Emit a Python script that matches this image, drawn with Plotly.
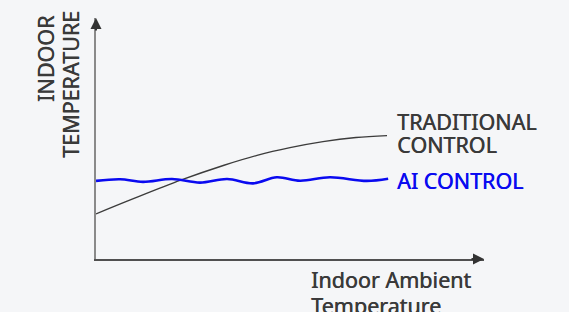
import plotly.graph_objects as go

# Data (arbitrary units: x 0..100 across the axis, y 0..100 up the axis)
trad_x = [0, 9, 22, 33, 41.5, 50, 58.5, 67, 75]
trad_y = [18.7, 24.6, 32.8, 38.9, 43.0, 46.2, 48.7, 50.4, 51.2]

ai_x = [0, 6.2, 12.1, 19.6, 26.8, 33.8, 40.5, 46.6, 52.6, 60.3, 69.8, 75.3]
ai_y = [32.4, 33.1, 32.0, 33.2, 31.7, 33.2, 31.4, 33.9, 32.5, 33.9, 32.4, 33.3]

series_labels = ["TRADITIONAL", "CONTROL", "AI CONTROL"]
x_title = ["Indoor Ambient", "Temperature"]
y_title = ["INDOOR", "TEMPERATURE"]

BG = "#f5f6f8"
DARK = "#3a3a3a"
BLUE = "#0a0af0"
FONT = "Noto Sans"
FS = 21.5

fig = go.Figure()
fig.add_trace(go.Scatter(x=trad_x, y=trad_y, mode="lines",
                         line=dict(color="#3c3c3c", width=1.4, shape="spline", smoothing=1.0),
                         hoverinfo="skip"))
fig.add_trace(go.Scatter(x=ai_x, y=ai_y, mode="lines",
                         line=dict(color=BLUE, width=2.6, shape="spline", smoothing=1.0),
                         hoverinfo="skip"))

def f(color=DARK):
    return dict(family=FONT, size=FS, color=color, shadow="0.5px 0 0 %s" % color)

ann = []
# arrow heads
ann.append(dict(x=0, y=1, xref="paper", yref="paper", ax=0, ay=14,
                showarrow=True, arrowhead=2, arrowsize=1.1, arrowwidth=2, arrowcolor="#333333", text=""))
ann.append(dict(x=1, y=0, xref="paper", yref="paper", ax=-14, ay=0,
                showarrow=True, arrowhead=2, arrowsize=1.1, arrowwidth=2, arrowcolor="#333333", text=""))

# series labels
ann.append(dict(x=trad_x[-1], y=trad_y[-1], xref="x", yref="y", xanchor="left", yanchor="middle",
                xshift=8, yshift=14, text=series_labels[0], showarrow=False, font=f()))
ann.append(dict(x=trad_x[-1], y=trad_y[-1], xref="x", yref="y", xanchor="left", yanchor="middle",
                xshift=8, yshift=-8.5, text=series_labels[1], showarrow=False, font=f()))
ann.append(dict(x=ai_x[-1], y=ai_y[-1], xref="x", yref="y", xanchor="left", yanchor="middle",
                xshift=7, yshift=-1.5, text=series_labels[2], showarrow=False, font=f(BLUE)))

# axis titles
ann.append(dict(x=(309 - 96) / 388, y=(259 - 279) / 241, xref="paper", yref="paper",
                xanchor="left", yanchor="middle", text=x_title[0], showarrow=False, font=f()))
ann.append(dict(x=(309 - 96) / 388, y=(259 - 305) / 241, xref="paper", yref="paper",
                xanchor="left", yanchor="middle", text=x_title[1], showarrow=False, font=f()))
ann.append(dict(x=(46 - 96) / 388, y=(259 - 59) / 241, xref="paper", yref="paper",
                xanchor="center", yanchor="middle", text=y_title[0], textangle=-90, showarrow=False,
                font=f()))
ann.append(dict(x=(70 - 96) / 388, y=(259 - 85) / 241, xref="paper", yref="paper",
                xanchor="center", yanchor="middle", text=y_title[1], textangle=-90, showarrow=False,
                font=f()))

fig.update_layout(
    width=569, height=312,
    margin=dict(l=96, r=85, t=18, b=53),
    paper_bgcolor=BG, plot_bgcolor=BG,
    showlegend=False,
    xaxis=dict(range=[0, 100], showgrid=False, zeroline=False, showticklabels=False, ticks="",
               showline=True, linecolor="#505050", linewidth=2, fixedrange=True),
    yaxis=dict(range=[0, 100], showgrid=False, zeroline=False, showticklabels=False, ticks="",
               showline=True, linecolor="#8a8a8a", linewidth=2, fixedrange=True),
    annotations=ann,
)

fig.write_html("out.html", config={"displayModeBar": False},
               post_script="document.body.style.margin='0';document.body.style.background='%s';" % BG)
